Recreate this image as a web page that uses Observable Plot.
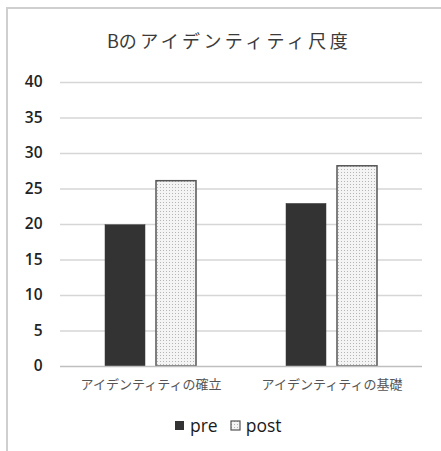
<!DOCTYPE html>
<html>
<head>
<meta charset="utf-8">
<script src="https://cdn.jsdelivr.net/npm/d3@7"></script>
<script src="https://cdn.jsdelivr.net/npm/@observablehq/plot@0.6"></script>
<style>
  body { margin: 0; background: #fff; font-family: "Noto Sans", "Noto Sans CJK JP", sans-serif; }
  #chart { position: relative; width: 441px; height: 451px; overflow: hidden; background: #fff; }
  #frame { position: absolute; left: 6px; top: 7px; width: 520px; height: 520px;
           border-left: 2px solid #cfcfcf; border-top: 2px solid #cfcfcf; }
  #plot { position: absolute; left: 0; top: 0; }
  #title { position: absolute; left: 4px; width: 450px; top: 27px; text-align: center;
           font-family: "Noto Sans CJK JP", sans-serif; font-size: 18px; letter-spacing: 3.4px;
           color: #3a3a3a; }
  #title .lead { letter-spacing: 0; }
  #legend { position: absolute; left: 174px; top: 413px; display: flex; align-items: center;
            font-family: "Open Sans", "Noto Sans", sans-serif; font-size: 17.5px; font-weight: 500; color: #1a1a1a; }
  #legend .item { display: flex; align-items: center; margin-right: 12px; }
  #legend svg { margin-right: 5px; }
</style>
</head>
<body>
<div id="chart">
  <div id="frame"></div>
  <div id="plot"></div>
  <div id="title"><span class="lead">B</span>のアイデンティティ尺度</div>
  <div id="legend"></div>
</div>
<script>
// Identity scale scores for group B, before and after
const categories = ["アイデンティティの確立", "アイデンティティの基礎"];
const series = ["pre", "post"];
const preValues = [19.9, 22.9];
const postValues = [26.1, 28.2];
const yTicks = [0, 5, 10, 15, 20, 25, 30, 35, 40];

const rows = categories.flatMap((c, i) => [
  {category: c, series: "pre", value: preValues[i]},
  {category: c, series: "post", value: postValues[i]}
]);

const chart = Plot.plot({
  width: 441,
  height: 451,
  marginTop: 82,
  marginBottom: 85,
  marginLeft: 60,
  marginRight: 19,
  style: {fontFamily: "\"Noto Sans\", \"Noto Sans CJK JP\", sans-serif", background: "transparent"},
  fx: {domain: categories, padding: 0, label: null},
  x: {domain: series, paddingInner: 0.217, paddingOuter: 0.86, axis: null},
  y: {domain: [0, 40], label: null},
  color: {domain: series, range: ["#333333", "url(#dots)"]},
  marks: [
    Plot.ruleY(yTicks.filter(d => d > 0), {stroke: "#d6d6d6", strokeWidth: 1.5}),
    Plot.axisY({ticks: yTicks, tickSize: 0, tickPadding: 18, fontSize: 15.5, fontWeight: 600,
                color: "#222", label: null, fontFamily: "\"Open Sans\", sans-serif"}),
    Plot.barY(rows, {
      fx: "category", x: "series", y: "value", fill: "series",
      stroke: d => d.series === "post" ? "#555" : "#3a3a3a",
      strokeWidth: d => d.series === "post" ? 1.5 : 0.5
    }),
    Plot.ruleY([0], {stroke: "#bfbfbf", strokeWidth: 1.5}),
    Plot.axisFx({anchor: "bottom", tickSize: 0, tickPadding: 13, fontSize: 13, color: "#555", label: null,
                 fontFamily: "Noto Sans CJK JP"})
  ]
});

// dotted fill pattern for the "post" bars
const svgNS = "http://www.w3.org/2000/svg";
const defs = document.createElementNS(svgNS, "defs");
defs.innerHTML = `
  <pattern id="dots" width="3" height="3" patternUnits="userSpaceOnUse">
    <rect width="3" height="3" fill="#f4f4f4"/>
    <rect x="1" y="1" width="1" height="1" fill="#b5b5b5"/>
  </pattern>`;
chart.insertBefore(defs, chart.firstChild);
document.getElementById("plot").appendChild(chart);

// legend
const legend = document.getElementById("legend");
series.forEach(s => {
  const item = document.createElement("div");
  item.className = "item";
  const sw = document.createElementNS(svgNS, "svg");
  sw.setAttribute("width", 11);
  sw.setAttribute("height", 11);
  sw.innerHTML = s === "pre"
    ? `<rect x="1" y="1" width="9" height="9" fill="#333"/>`
    : `<rect x="1" y="1" width="9" height="9" fill="url(#dots)" stroke="#555" stroke-width="1.2"/>`;
  item.appendChild(sw);
  const label = document.createElement("span");
  label.textContent = s;
  item.appendChild(label);
  legend.appendChild(item);
});
</script>
</body>
</html>
